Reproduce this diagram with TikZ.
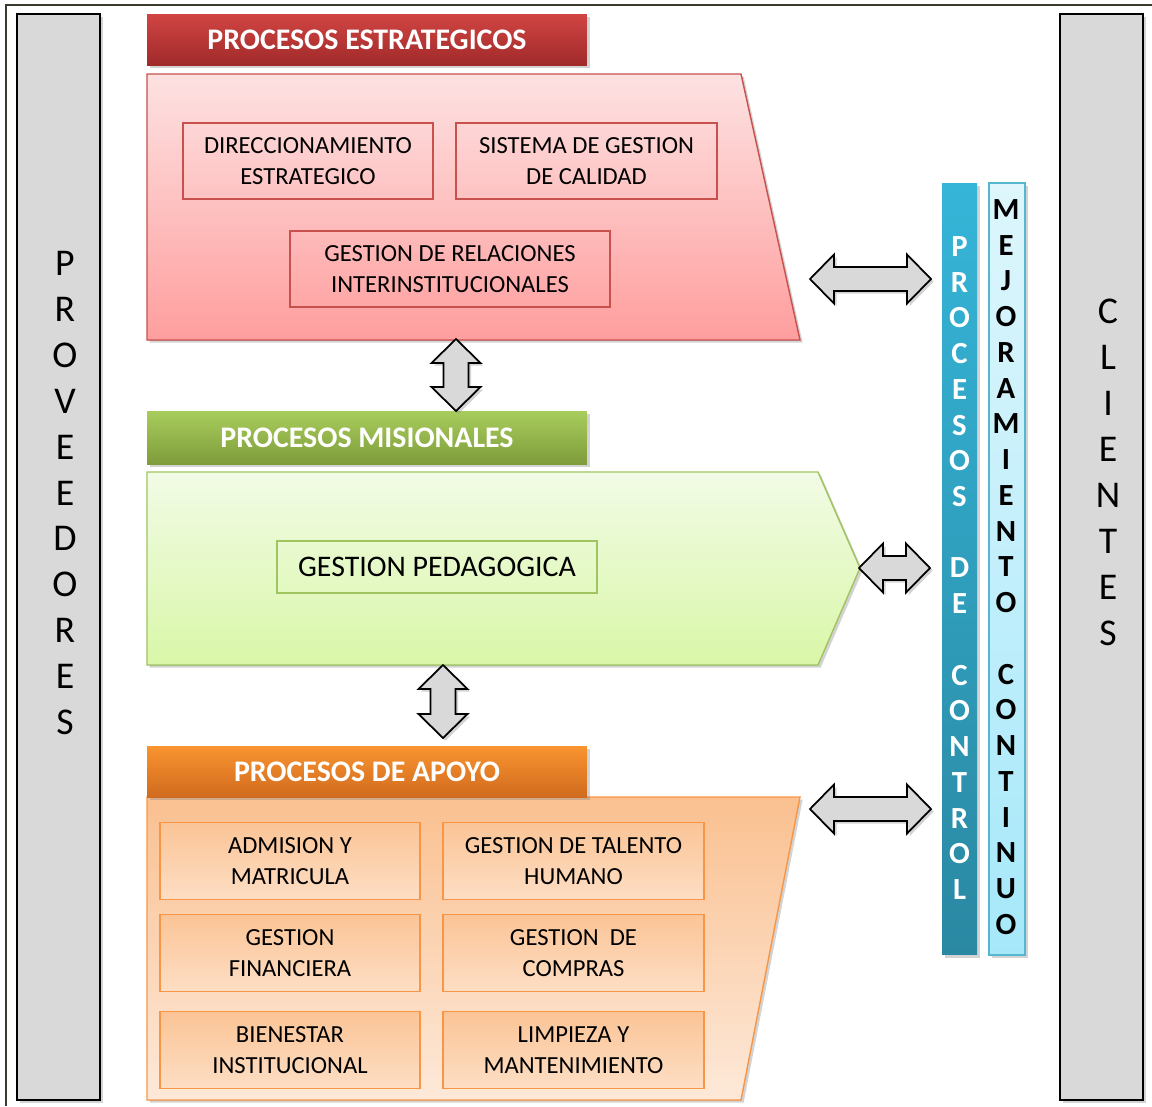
\documentclass[tikz,border=0pt]{standalone}
\usepackage{fontspec}
\setmainfont{Carlito}
\usetikzlibrary{shadows}

\definecolor{marcoC}{RGB}{60,58,45}
\definecolor{grisB}{RGB}{217,217,217}
\definecolor{rojoA}{RGB}{208,68,66}
\definecolor{rojoB}{RGB}{160,42,42}
\definecolor{rojoL}{RGB}{200,80,77}
\definecolor{rosaA}{RGB}{253,226,226}
\definecolor{rosaB}{RGB}{255,158,158}
\definecolor{verdeA}{RGB}{168,204,92}
\definecolor{verdeB}{RGB}{126,156,58}
\definecolor{verdeL}{RGB}{160,196,96}
\definecolor{verdeC}{RGB}{242,251,230}
\definecolor{verdeD}{RGB}{217,247,168}
\definecolor{naranjaA}{RGB}{249,148,48}
\definecolor{naranjaB}{RGB}{208,106,30}
\definecolor{naranjaL}{RGB}{247,150,70}
\definecolor{naranjaC}{RGB}{250,192,144}
\definecolor{naranjaD}{RGB}{253,233,217}
\definecolor{cajaA}{RGB}{251,196,150}
\definecolor{cajaB}{RGB}{253,222,196}
\definecolor{azulA}{RGB}{53,181,216}
\definecolor{azulB}{RGB}{42,136,162}
\definecolor{celesteA}{RGB}{222,246,252}
\definecolor{celesteB}{RGB}{166,232,250}
\definecolor{celesteL}{RGB}{86,182,208}

% flechas dobles
\newcommand{\flechaH}[3]{%
  \filldraw[flecha] (#1,#3) -- ({#1+24},{#3-24.5}) -- ({#1+24},{#3-12}) -- ({#2-24},{#3-12}) -- ({#2-24},{#3-24.5}) -- (#2,#3) -- ({#2-24},{#3+24.5}) -- ({#2-24},{#3+12}) -- ({#1+24},{#3+12}) -- ({#1+24},{#3+24.5}) -- cycle;}
\newcommand{\flechaV}[3]{%
  \filldraw[flecha] (#1,#2) -- ({#1+24.5},{#2+24}) -- ({#1+12.5},{#2+24}) -- ({#1+12.5},{#3-24}) -- ({#1+24.5},{#3-24}) -- (#1,#3) -- ({#1-24.5},{#3-24}) -- ({#1-12.5},{#3-24}) -- ({#1-12.5},{#2+24}) -- ({#1-24.5},{#2+24}) -- cycle;}

\begin{document}
\begin{tikzpicture}[x=0.02cm,y=-0.02cm,
    sombra/.style={drop shadow={opacity=0.35,shadow xshift=1.5pt,shadow yshift=-1.5pt}},
    barra/.style={draw=black,line width=1.1pt,fill=grisB,sombra,minimum width=1.66cm,minimum height=21.72cm,inner sep=0pt},
    letras/.style={align=center,font=\fontsize{21.5}{26.17}\selectfont},
    titulo/.style={minimum width=8.8cm,inner sep=0pt,text=white,sombra,font=\fontsize{17}{20}\selectfont\bfseries},
    caja/.style={draw=#1,line width=0.9pt,align=center,inner sep=0pt,font=\fontsize{14}{17.64}\selectfont},
    flecha/.style={draw=black,line width=1pt,fill=grisB,sombra},
    vbarra/.style={minimum width=#1,minimum height=15.44cm,inner sep=0pt,sombra},
    vletras/.style={align=center,font=\fontsize{17.5}{20.34}\selectfont\bfseries}]
    \useasboundingbox (0,0) rectangle (1152,1106);
    % marco
    \draw[marcoC,line width=1.2pt] (6,1106) -- (6,5) -- (1152,5);

    % proveedores y clientes
    \node[barra] (prov) at (58.5,557) {};
    \node[letras] (provtxt) at (65,493) {P\\R\\O\\V\\E\\E\\D\\O\\R\\E\\S};
    \node[barra] (cli) at (1101.5,557) {};
    \node[letras] (clitxt) at (1108,472) {C\\L\\I\\E\\N\\T\\E\\S};

    % procesos estrategicos
    \filldraw[draw=rojoL,line width=0.8pt,top color=rosaA,bottom color=rosaB,sombra] (147,74) -- (741,74) -- (800,340) -- (147,340) -- cycle;
    \node[titulo,minimum height=1.02cm,top color=rojoA,bottom color=rojoB] (est) at (367,40) {PROCESOS ESTRATEGICOS};
    \node[caja=rojoL,minimum width=5cm,minimum height=1.52cm] (dir) at (308,161) {DIRECCIONAMIENTO\\ESTRATEGICO};
    \node[caja=rojoL,minimum width=5.22cm,minimum height=1.52cm] (sgc) at (586.5,161) {SISTEMA DE GESTION\\DE CALIDAD};
    \node[caja=rojoL,minimum width=6.4cm,minimum height=1.52cm] (rel) at (450,269) {GESTION DE RELACIONES\\INTERINSTITUCIONALES};

    % procesos misionales
    \filldraw[draw=verdeL,line width=0.8pt,top color=verdeC,bottom color=verdeD,sombra] (147,472) -- (818,472) -- (860,568) -- (818,665) -- (147,665) -- cycle;
    \node[titulo,minimum height=1.06cm,top color=verdeA,bottom color=verdeB] (mis) at (367,438) {PROCESOS MISIONALES};
    \node[caja=verdeL,minimum width=6.4cm,minimum height=1.04cm,font=\fontsize{17}{20}\selectfont] (ped) at (437,567) {GESTION PEDAGOGICA};

    % procesos de apoyo
    \filldraw[draw=naranjaL,line width=0.8pt,top color=naranjaC,bottom color=naranjaD,sombra] (147,797) -- (800,797) -- (741,1100) -- (147,1100) -- cycle;
    \node[titulo,minimum height=1.02cm,top color=naranjaA,bottom color=naranjaB] (apo) at (367,772) {PROCESOS DE APOYO};
    \node[caja=naranjaL,minimum width=5.2cm,minimum height=1.54cm,top color=cajaA,bottom color=cajaB] (adm) at (290,861) {ADMISION Y\\MATRICULA};
    \node[caja=naranjaL,minimum width=5.22cm,minimum height=1.54cm,top color=cajaA,bottom color=cajaB] (tal) at (573.5,861) {GESTION DE TALENTO\\HUMANO};
    \node[caja=naranjaL,minimum width=5.2cm,minimum height=1.54cm,top color=cajaA,bottom color=cajaB] (fin) at (290,953) {GESTION\\FINANCIERA};
    \node[caja=naranjaL,minimum width=5.22cm,minimum height=1.54cm,top color=cajaA,bottom color=cajaB] (com) at (573.5,953) {GESTION~~DE\\COMPRAS};
    \node[caja=naranjaL,minimum width=5.2cm,minimum height=1.54cm,top color=cajaA,bottom color=cajaB] (bie) at (290,1050) {BIENESTAR\\INSTITUCIONAL};
    \node[caja=naranjaL,minimum width=5.22cm,minimum height=1.54cm,top color=cajaA,bottom color=cajaB] (lim) at (573.5,1050) {LIMPIEZA Y\\MANTENIMIENTO};

    % flechas
    \flechaV{456}{339}{411}
    \flechaV{443}{665}{738}
    \flechaH{810}{931}{279}
    \flechaH{859}{930}{568}
    \flechaH{810}{931}{809}

    % control y mejoramiento
    \node[vbarra=0.7cm,top color=azulA,bottom color=azulB] (ctl) at (959.5,569) {};
    \node[vletras,text=white] (ctltxt) at (959.5,568) {P\\R\\O\\C\\E\\S\\O\\S\\\mbox{}\\D\\E\\\mbox{}\\C\\O\\N\\T\\R\\O\\L};
    \node[vbarra=0.72cm,draw=celesteL,line width=0.8pt,top color=celesteA,bottom color=celesteB] (mej) at (1007,569) {};
    \node[vletras,text=black] (mejtxt) at (1006,567) {M\\E\\J\\O\\R\\A\\M\\I\\E\\N\\T\\O\\\mbox{}\\C\\O\\N\\T\\I\\N\\U\\O};
\end{tikzpicture}
\end{document}
